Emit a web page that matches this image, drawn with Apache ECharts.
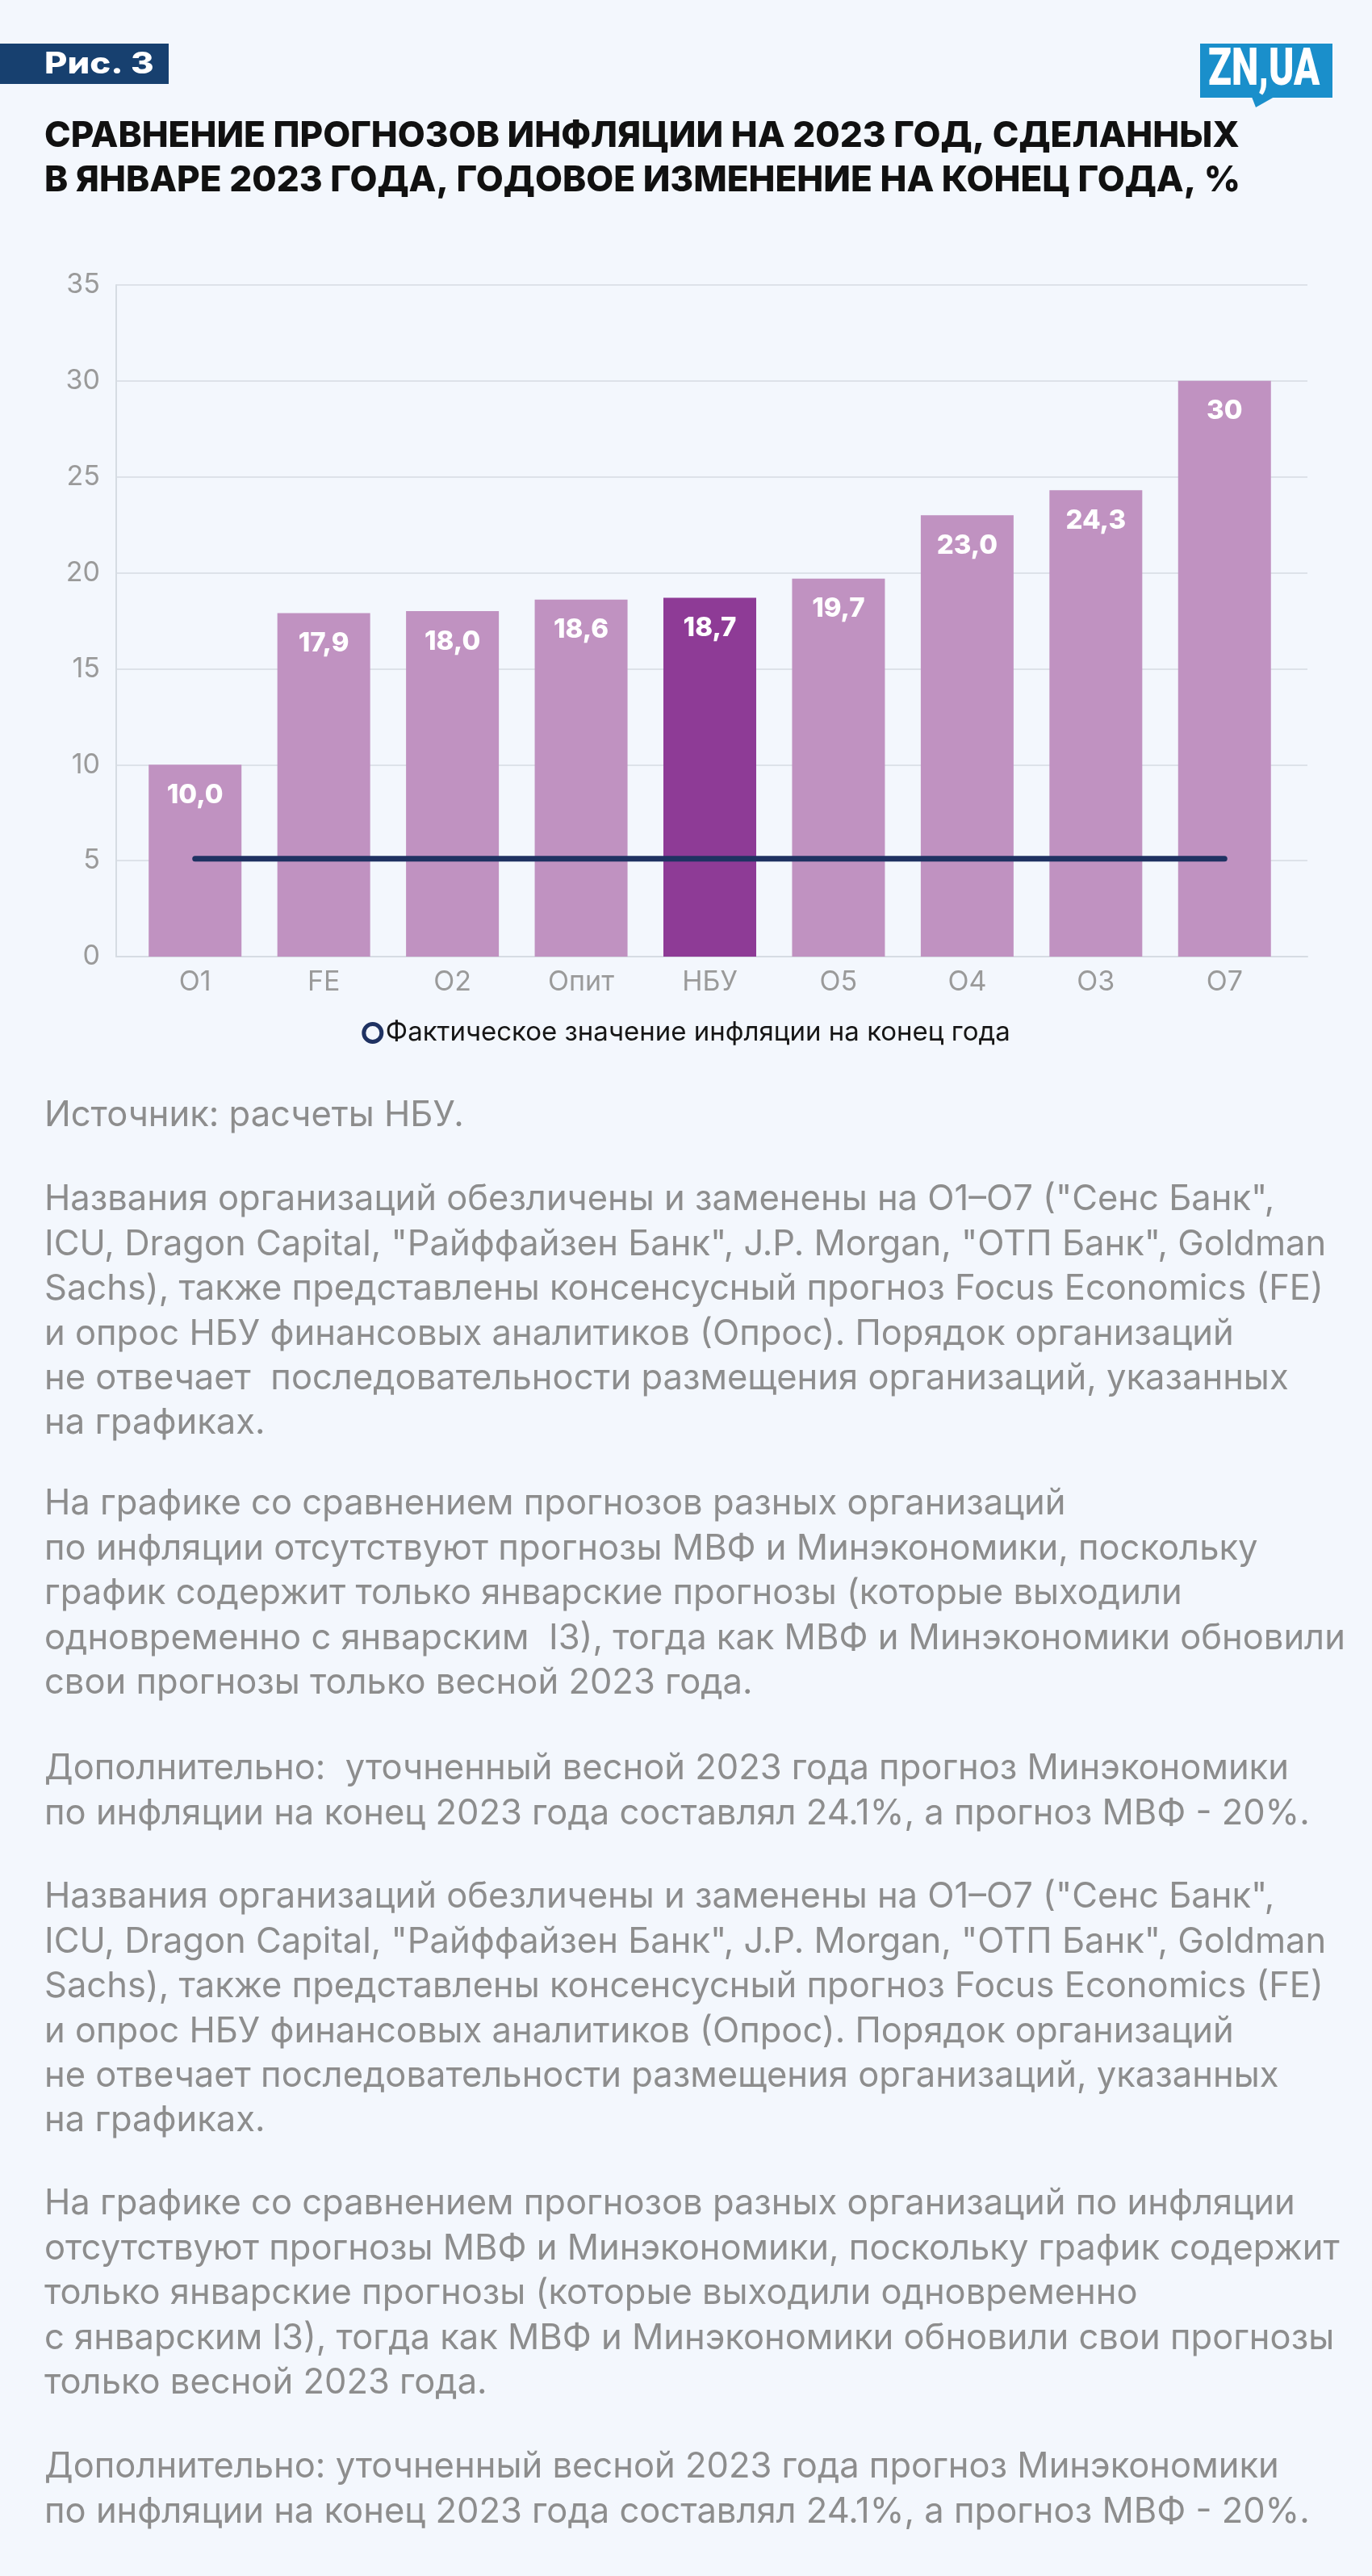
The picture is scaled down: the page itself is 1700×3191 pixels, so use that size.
<!DOCTYPE html>
<html>
<head>
<meta charset="utf-8">
<script src="https://cdn.jsdelivr.net/npm/echarts@6/dist/echarts.min.js"></script>
<style>
  html, body { margin:0; padding:0; background:#f3f7fd; }
  #wrap { position:relative; width:1700px; height:3191px; overflow:hidden; }
  #chart { position:absolute; left:0; top:0; width:1700px; height:3191px; }
  .para { position:absolute; left:55px; white-space:pre; font-family:Inter, 'Noto Sans', sans-serif;
          font-size:43.5px; line-height:55.4px; color:#8d8d8d; letter-spacing:0px; }
</style>
</head>
<body>
<div id="wrap">
  <div id="chart"></div>
</div>
<script>
// ---- data ----
const categories = ['О1', 'FE', 'О2', 'Опит', 'НБУ', 'О5', 'О4', 'О3', 'О7'];
const forecasts = [10.0, 17.9, 18.0, 18.6, 18.7, 19.7, 23.0, 24.3, 30];
const forecastLabels = ['10,0', '17,9', '18,0', '18,6', '18,7', '19,7', '23,0', '24,3', '30'];
const actualInflation = [5.1, 5.1, 5.1, 5.1, 5.1, 5.1, 5.1, 5.1, 5.1];
const highlightCategory = 'НБУ';
const yMin = 0, yMax = 35, yStep = 5;
const actualName = 'Фактическое значение инфляции на конец года';
const badgeText = 'Рис. 3';
const logoText = 'ZN,UA';
const titleLines = [
  'СРАВНЕНИЕ ПРОГНОЗОВ ИНФЛЯЦИИ НА 2023 ГОД, СДЕЛАННЫХ',
  'В ЯНВАРЕ 2023 ГОДА, ГОДОВОЕ ИЗМЕНЕНИЕ НА КОНЕЦ ГОДА, %'
];
const notes = [
  ['Источник: расчеты НБУ.'],
  ['Названия организаций обезличены и заменены на О1–О7 ("Сенс Банк",',
   'ICU, Dragon Capital, "Райффайзен Банк", J.P. Morgan, "ОТП Банк", Goldman',
   'Sachs), также представлены консенсусный прогноз Focus Economics (FE)',
   'и опрос НБУ финансовых аналитиков (Опрос). Порядок организаций',
   'не отвечает  последовательности размещения организаций, указанных',
   'на графиках.'],
  ['На графике со сравнением прогнозов разных организаций',
   'по инфляции отсутствуют прогнозы МВФ и Минэкономики, поскольку',
   'график содержит только январские прогнозы (которые выходили',
   'одновременно с январским  ІЗ), тогда как МВФ и Минэкономики обновили',
   'свои прогнозы только весной 2023 года.'],
  ['Дополнительно:  уточненный весной 2023 года прогноз Минэкономики',
   'по инфляции на конец 2023 года составлял 24.1%, а прогноз МВФ - 20%.'],
  ['Названия организаций обезличены и заменены на О1–О7 ("Сенс Банк",',
   'ICU, Dragon Capital, "Райффайзен Банк", J.P. Morgan, "ОТП Банк", Goldman',
   'Sachs), также представлены консенсусный прогноз Focus Economics (FE)',
   'и опрос НБУ финансовых аналитиков (Опрос). Порядок организаций',
   'не отвечает последовательности размещения организаций, указанных',
   'на графиках.'],
  ['На графике со сравнением прогнозов разных организаций по инфляции',
   'отсутствуют прогнозы МВФ и Минэкономики, поскольку график содержит',
   'только январские прогнозы (которые выходили одновременно',
   'с январским ІЗ), тогда как МВФ и Минэкономики обновили свои прогнозы',
   'только весной 2023 года.'],
  ['Дополнительно: уточненный весной 2023 года прогноз Минэкономики',
   'по инфляции на конец 2023 года составлял 24.1%, а прогноз МВФ - 20%.']
];

// ---- layout (styling only) ----
const noteFirstLineCenters = [1380, 1484, 1861, 2189, 2348, 2728, 3054];
const LH = 55.4;
const wrap = document.getElementById('wrap');
notes.forEach((lines, i) => {
  const d = document.createElement('div');
  d.className = 'para';
  d.style.top = (noteFirstLineCenters[i] - LH / 2) + 'px';
  d.textContent = lines.join('\n');
  wrap.appendChild(d);
});

const colLight = '#c092c1', colDark = '#8e3b96', colLine = '#1f3262';
const gridTop = 353, gridBottom = 3191 - 1185;
const fontF = 'Inter, "Noto Sans", sans-serif';

const chart = echarts.init(document.getElementById('chart'), null, { renderer: 'canvas' });
chart.setOption({
  backgroundColor: '#f3f7fd',
  animation: false,
  title: {
    text: titleLines.join('\n'),
    left: 55, top: 141, padding: 0,
    textStyle: { fontFamily: fontF, fontWeight: 800, fontSize: 44, lineHeight: 55, color: '#111111' }
  },
  graphic: [
    { type: 'rect', left: 0, top: 54, shape: { width: 209, height: 50 }, style: { fill: '#17406f' } },
    { type: 'text', x: 55, y: 80, scaleX: 1.18,
      style: { text: badgeText, fill: '#ffffff', font: '800 37px Inter', textVerticalAlign: 'middle', textAlign: 'left' } },
    { type: 'rect', shape: { x: 1487, y: 54, width: 164, height: 67 }, style: { fill: '#1a8fcb' } },
    { type: 'polygon', shape: { points: [[1551, 120], [1579, 120], [1556, 133]] }, style: { fill: '#1a8fcb' } },
    { type: 'text', x: 1497, y: 89, scaleX: 0.74,
      style: { text: logoText, fill: '#ffffff', font: '900 64px Roboto', textVerticalAlign: 'middle', textAlign: 'left' } }
  ],
  legend: {
    data: [{ name: actualName, icon: 'circle',
             itemStyle: { color: '#f3f7fd', borderColor: colLine, borderWidth: 5 } }],
    left: 'center', top: 1258, itemWidth: 22, itemHeight: 22, itemGap: 8,
    textStyle: { fontFamily: fontF, fontSize: 33, color: '#161616' },
    selectedMode: false
  },
  grid: [
    { left: 144, right: 80, top: gridTop, bottom: gridBottom },
    { left: 162, right: 103, top: gridTop, bottom: gridBottom }
  ],
  xAxis: [
    { gridIndex: 0, type: 'category', data: categories,
      axisLine: { show: true, lineStyle: { color: '#d6dce3', width: 2 } },
      axisTick: { show: false }, axisLabel: { show: false }, splitLine: { show: false } },
    { gridIndex: 1, type: 'category', data: categories,
      axisLine: { show: false }, axisTick: { show: false },
      axisLabel: { fontFamily: fontF, fontSize: 34, color: '#9a9a9a', margin: 15 } }
  ],
  yAxis: [
    { gridIndex: 0, type: 'value', min: yMin, max: yMax, interval: yStep,
      axisLine: { show: true, lineStyle: { color: '#d6dce3', width: 2 } },
      axisTick: { show: false },
      axisLabel: { fontFamily: fontF, fontSize: 34, color: '#9a9a9a', margin: 20 },
      splitLine: { lineStyle: { color: '#dde2e9', width: 2 } } },
    { gridIndex: 1, type: 'value', min: yMin, max: yMax, interval: yStep, show: false,
      splitLine: { show: false } }
  ],
  series: [
    { name: 'Прогноз', type: 'bar', xAxisIndex: 1, yAxisIndex: 1, barWidth: 115,
      data: forecasts.map((v, i) => ({ value: v,
        itemStyle: { color: categories[i] === highlightCategory ? colDark : colLight } })),
      label: { show: true, position: 'insideTop', distance: 21,
        formatter: p => forecastLabels[p.dataIndex],
        fontFamily: fontF, fontWeight: 800, fontSize: 33, color: '#ffffff' },
      z: 2 },
    { name: actualName, type: 'line', xAxisIndex: 1, yAxisIndex: 1,
      data: actualInflation, showSymbol: false, symbol: 'emptyCircle',
      lineStyle: { color: colLine, width: 7, cap: 'round' },
      itemStyle: { color: colLine }, z: 3 }
  ]
});
</script>
</body>
</html>
